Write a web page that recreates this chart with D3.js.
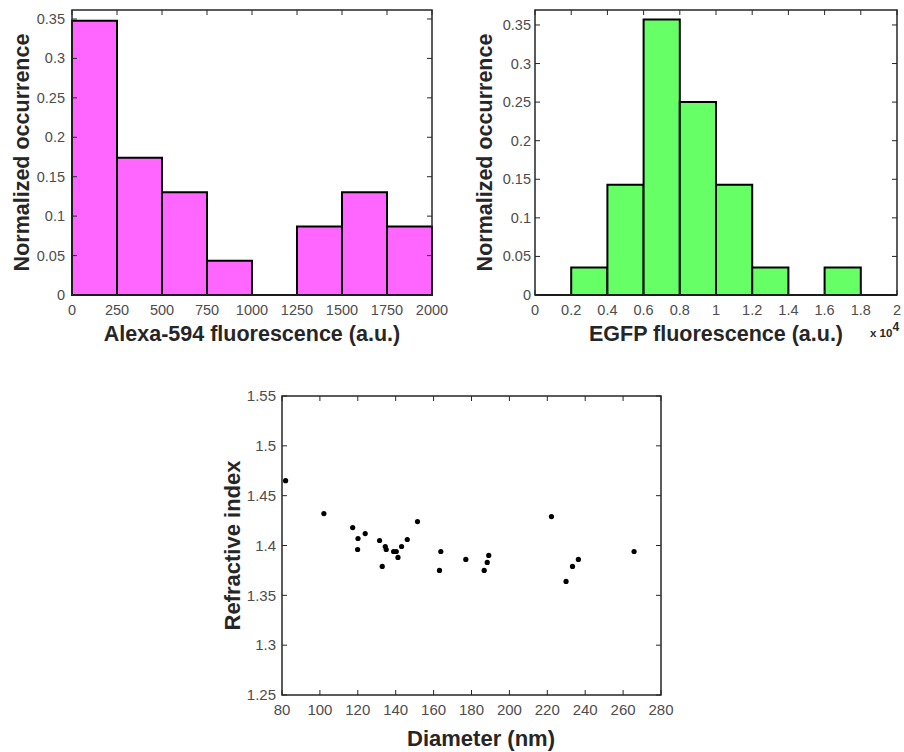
<!DOCTYPE html>
<html>
<head>
<meta charset="utf-8">
<script src="https://cdn.jsdelivr.net/npm/d3@7"></script>
<style>
  body { margin: 0; background: #fff; }
  svg { display: block; font-family: "Liberation Sans", Arial, sans-serif; }
</style>
</head>
<body>
<svg id="fig" width="904" height="752"></svg>
<script>
// Alexa-594 histogram (bin edges and normalized counts)
const alexaEdges = [0, 250, 500, 750, 1000, 1250, 1500, 1750, 2000];
const alexaValues = [0.3478, 0.1739, 0.1304, 0.0435, 0, 0.0870, 0.1304, 0.0870];
const alexaTicks = [0, 250, 500, 750, 1000, 1250, 1500, 1750, 2000];

// EGFP histogram
const egfpEdges = [0, 2000, 4000, 6000, 8000, 10000, 12000, 14000, 16000, 18000, 20000];
const egfpValues = [0, 0.0357, 0.1429, 0.3571, 0.25, 0.1429, 0.0357, 0, 0.0357, 0];
const egfpTicks = [0, 2000, 4000, 6000, 8000, 10000, 12000, 14000, 16000, 18000, 20000];

const occTicks = [0, 0.05, 0.1, 0.15, 0.2, 0.25, 0.3, 0.35];

// scatter: diameter (nm) vs refractive index
const diameter = [81.9, 102.1, 117.3, 120.1, 119.9, 123.9, 131.5, 132.9, 134.5, 135.0,
  138.9, 140.3, 141.2, 143.1, 146.1, 151.5, 163.8, 163.1, 177.0, 186.7,
  188.3, 189.1, 222.2, 229.9, 233.3, 236.4, 265.8];
const refIndex = [1.465, 1.432, 1.418, 1.407, 1.396, 1.412, 1.405, 1.379, 1.399, 1.396,
  1.394, 1.394, 1.388, 1.399, 1.406, 1.424, 1.394, 1.375, 1.386, 1.375,
  1.383, 1.390, 1.429, 1.364, 1.379, 1.386, 1.394];
const diamTicks = [80, 100, 120, 140, 160, 180, 200, 220, 240, 260, 280];
const riTicks = [1.25, 1.3, 1.35, 1.4, 1.45, 1.5, 1.55];

const svg = d3.select("#fig");
const axisColor = "#262626";
const tickColor = "#4d4d4d";
const fmt = v => String(+v.toFixed(3));

function frame(g, x, y, xTicks, yTicks, opt) {
  const [x0, x1] = x.range();
  const [y0, y1] = y.range();
  const tl = 5;
  const fs = opt.tickSize;
  // ticks (inside, mirrored)
  xTicks.forEach(t => {
    const px = x(t);
    g.append("line").attr("x1", px).attr("x2", px).attr("y1", y0).attr("y2", y0 - tl)
      .attr("stroke", axisColor).attr("stroke-width", 1);
    g.append("line").attr("x1", px).attr("x2", px).attr("y1", y1).attr("y2", y1 + tl)
      .attr("stroke", axisColor).attr("stroke-width", 1);
    g.append("text").attr("x", px).attr("y", y0 + 20).attr("text-anchor", "middle")
      .attr("font-size", fs).attr("fill", tickColor).text(opt.xFmt(t));
  });
  yTicks.forEach(t => {
    const py = y(t);
    g.append("line").attr("x1", x0).attr("x2", x0 + tl).attr("y1", py).attr("y2", py)
      .attr("stroke", axisColor).attr("stroke-width", 1);
    g.append("line").attr("x1", x1).attr("x2", x1 - tl).attr("y1", py).attr("y2", py)
      .attr("stroke", axisColor).attr("stroke-width", 1);
    g.append("text").attr("x", x0 - opt.yGap).attr("y", py).attr("dy", "0.35em")
      .attr("text-anchor", "end").attr("font-size", fs).attr("fill", tickColor).text(fmt(t));
  });
  g.append("rect").attr("x", x0).attr("y", y1).attr("width", x1 - x0).attr("height", y0 - y1)
    .attr("fill", "none").attr("stroke", axisColor).attr("stroke-width", 1.5);
  g.append("text").attr("x", opt.xLabelX ?? (x0 + x1) / 2).attr("y", opt.xLabelY)
    .attr("text-anchor", "middle").attr("font-size", opt.labelSize).attr("font-weight", "bold")
    .attr("fill", axisColor).text(opt.xLabel);
  g.append("text").attr("transform", `translate(${opt.yLabelX},${(y0 + y1) / 2}) rotate(-90)`)
    .attr("text-anchor", "middle").attr("font-size", opt.labelSize).attr("font-weight", "bold")
    .attr("fill", axisColor).text(opt.yLabel);
}

function histogram(edges, values, x, y, color) {
  const g = svg.append("g");
  values.forEach((v, i) => {
    const xa = x(edges[i]), xb = x(edges[i + 1]);
    const yb = y(0), yt = y(v);
    g.append("path")
      .attr("d", `M${xa},${yb}V${yt}H${xb}V${yb}Z`)
      .attr("fill", color).attr("stroke", "#000").attr("stroke-width", 2);
  });
  return g;
}

// top-left
{
  const x = d3.scaleLinear().domain([0, 2000]).range([72, 432]);
  const y = d3.scaleLinear().domain([0, 0.3614]).range([295, 10]);
  histogram(alexaEdges, alexaValues, x, y, "#ff66ff");
  frame(svg.append("g"), x, y, alexaTicks, occTicks, {
    tickSize: 14.5, labelSize: 21.5, yGap: 7, xFmt: fmt,
    xLabel: "Alexa-594 fluorescence (a.u.)", xLabelY: 341,
    yLabel: "Normalized occurrence", yLabelX: 29
  });
}

// top-right
{
  const x = d3.scaleLinear().domain([0, 20000]).range([535, 897]);
  const y = d3.scaleLinear().domain([0, 0.3694]).range([295, 10]);
  histogram(egfpEdges, egfpValues, x, y, "#66ff66");
  frame(svg.append("g"), x, y, egfpTicks, occTicks, {
    tickSize: 14.5, labelSize: 21.5, yGap: 4, xFmt: t => fmt(t / 1e4),
    xLabel: "EGFP fluorescence (a.u.)", xLabelY: 341,
    yLabel: "Normalized occurrence", yLabelX: 492
  });
  const ex = svg.append("text").attr("x", 870).attr("y", 337).attr("font-size", 11.5)
    .attr("font-weight", "bold").attr("fill", axisColor);
  ex.append("tspan").text("x 10");
  ex.append("tspan").attr("dy", -6).attr("font-size", 12).text("4");
}

// bottom scatter
{
  const x = d3.scaleLinear().domain([80, 280]).range([282, 661]);
  const y = d3.scaleLinear().domain([1.25, 1.55]).range([695, 396]);
  const g = svg.append("g");
  frame(g, x, y, diamTicks, riTicks, {
    tickSize: 15, labelSize: 22, yGap: 6, xFmt: fmt,
    xLabel: "Diameter (nm)", xLabelY: 746, xLabelX: 481,
    yLabel: "Refractive index", yLabelX: 240
  });
  svg.append("g").selectAll("circle")
    .data(d3.zip(diameter, refIndex))
    .join("circle")
    .attr("cx", d => x(d[0]))
    .attr("cy", d => y(d[1]))
    .attr("r", 2.6)
    .attr("fill", "#000");
}
</script>
</body>
</html>
